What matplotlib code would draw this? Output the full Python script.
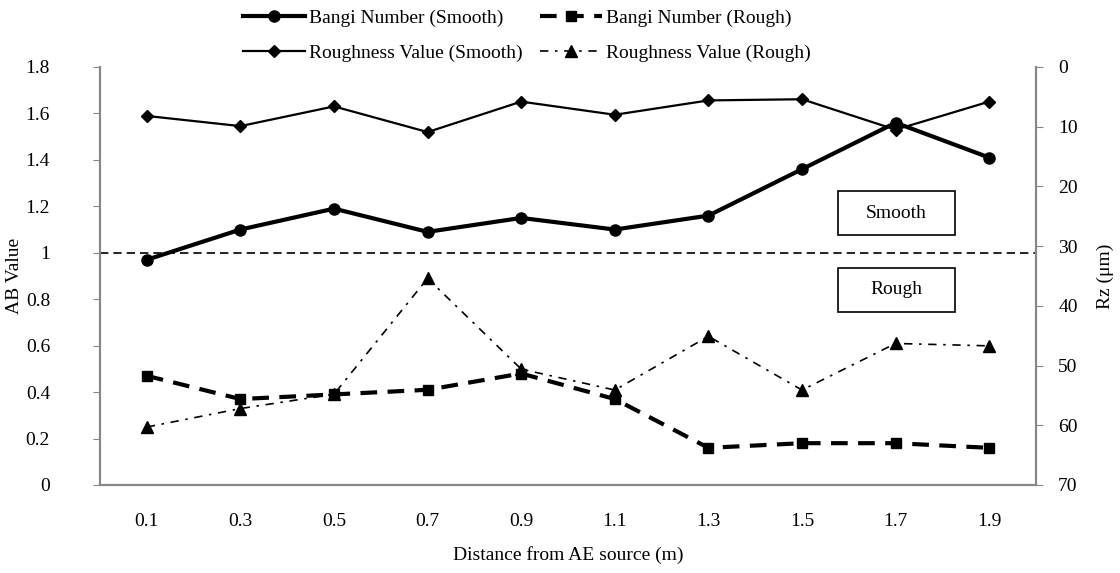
import numpy as np
import matplotlib
matplotlib.use('Agg')
import matplotlib.pyplot as plt
from matplotlib.patches import Rectangle

plt.rcParams['font.family'] = ['Liberation Serif', 'DejaVu Serif']
plt.rcParams['font.size'] = 14

# data
distance = ['0.1', '0.3', '0.5', '0.7', '0.9', '1.1', '1.3', '1.5', '1.7', '1.9']
bangi_smooth = [0.97, 1.10, 1.19, 1.09, 1.15, 1.10, 1.16, 1.36, 1.56, 1.41]
bangi_rough = [0.47, 0.37, 0.39, 0.41, 0.48, 0.37, 0.16, 0.18, 0.18, 0.16]
rz_smooth = [8.2, 9.9, 6.6, 10.9, 5.8, 8.0, 5.6, 5.4, 10.5, 5.8]
rz_rough = [60.3, 57.2, 54.8, 35.4, 50.6, 54.1, 45.1, 54.1, 46.3, 46.7]
left_ticks = [0, 0.2, 0.4, 0.6, 0.8, 1, 1.2, 1.4, 1.6, 1.8]
right_ticks = [0, 10, 20, 30, 40, 50, 60, 70]

gray = '#878787'
x = np.arange(len(distance))

fig = plt.figure(figsize=(11.2, 5.73), dpi=100)
ax = fig.add_axes([0.0893, 0.1536, 0.8357, 0.7295])
ax2 = ax.twinx()

l1, = ax.plot(x, bangi_smooth, color='k', lw=3, marker='o', ms=8,
              label='Bangi Number (Smooth)')
l2, = ax.plot(x, bangi_rough, color='k', lw=3, marker='s', ms=7,
              dashes=(4, 2.5), label='Bangi Number (Rough)')
l3, = ax2.plot(x, rz_smooth, color='k', lw=1.6, marker='D', ms=6.5,
               label='Roughness Value (Smooth)')
l4, = ax2.plot(x, rz_rough, color='k', lw=1.2, marker='^', ms=8,
               dashes=(5, 4, 1.5, 4), label='Roughness Value (Rough)')

ax.axhline(1, color='k', lw=1.2, dashes=(5, 3))

ax.set_xlim(-0.5, len(distance) - 0.5)
ax.set_ylim(0, 1.8)
ax.set_yticks(left_ticks)
ax.set_yticklabels(['%g' % v for v in left_ticks])
ax.set_xticks(x)
ax.set_xticklabels(distance)
ax2.set_ylim(70, 0)
ax2.set_yticks(right_ticks)

for a in (ax, ax2):
    for s in a.spines.values():
        s.set_color(gray)
        s.set_linewidth(1.5)
    a.spines['top'].set_visible(False)
ax.tick_params(axis='x', length=0, pad=20)
ax.tick_params(axis='y', length=5, color=gray, pad=31)
ax2.tick_params(axis='y', length=5, color=gray, pad=11)

ax.set_ylabel('AB Value')
ax.yaxis.set_label_coords(-0.082, 0.5)
ax2.set_ylabel('Rz (μm)')
ax2.yaxis.set_label_coords(1.065, 0.5)
ax.set_xlabel('Distance from AE source (m)')
ax.xaxis.set_label_coords(0.5, -0.167)
ax.xaxis.label.set_va('center')

# region labels
for y0, txt in [(0.598, 'Smooth'), (0.414, 'Rough')]:
    ax.add_patch(Rectangle((0.788, y0), 0.125, 0.105, transform=ax.transAxes,
                           fill=False, ec='k', lw=1.2, zorder=5))
    ax.text(0.788 + 0.0625, y0 + 0.0525, txt, transform=ax.transAxes,
            ha='center', va='center', zorder=5)

fig.legend(handles=[l1, l3, l2, l4], ncol=2, loc='upper center',
           bbox_to_anchor=(0.4705, 1.015), frameon=False, handlelength=3.2,
           handletextpad=0.2, columnspacing=0.9, labelspacing=0.9)

fig.savefig('out.png', dpi=100)
